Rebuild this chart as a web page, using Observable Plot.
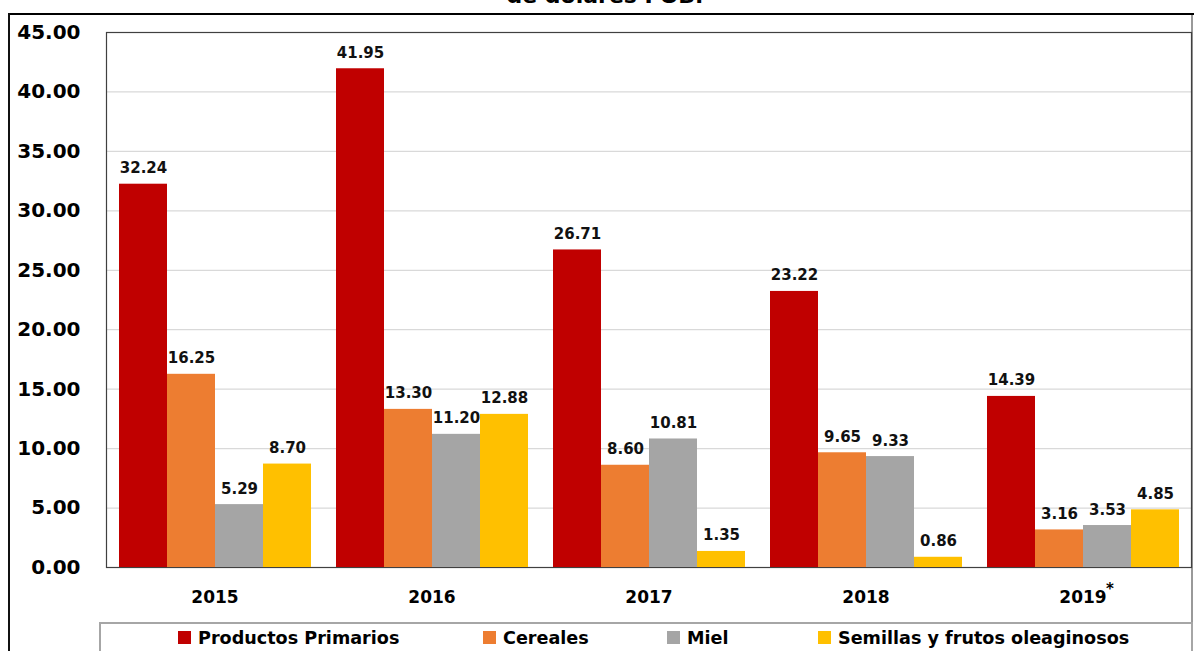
<!DOCTYPE html>
<html>
<head>
<meta charset="utf-8">
<script src="https://cdn.jsdelivr.net/npm/d3@7"></script>
<script src="https://cdn.jsdelivr.net/npm/@observablehq/plot@0.6"></script>
<style>
  html, body { margin: 0; padding: 0; background: #fff; overflow: hidden; }
  #wrap { position: relative; width: 1194px; height: 651px; overflow: hidden; font-family: "DejaVu Sans", sans-serif; font-weight: bold; color: #000; }
  #title { position: absolute; left: 0; width: 1210px; top: -15px; text-align: center; font-size: 22px; line-height: 22px; }
  #bTop { position: absolute; left: 8px; right: 0; top: 13px; height: 2px; background: #000; }
  #bLeft { position: absolute; left: 8px; top: 13px; width: 2px; bottom: 0; background: #111; }
  #bRight { position: absolute; right: 1px; top: 15px; width: 2px; bottom: 0; background: #999; }
  #back, #chart { position: absolute; left: 0; top: 0; }
  #legend { position: absolute; left: 99px; width: 1090px; top: 622px; height: 40px; border: 2px solid #a6a6a6; background: #fff; }
  .item { position: absolute; top: 3px; font-size: 17.6px; line-height: 22px; white-space: nowrap; color: #000; }
  .sw { display: inline-block; width: 13px; height: 13px; margin-right: 7px; vertical-align: 0px; }
</style>
</head>
<body>
<div id="wrap">
  <div id="title">de dólares FOB.</div>
  <div id="bTop"></div>
  <div id="bLeft"></div>
  <div id="bRight"></div>
  <div id="back"></div>
  <div id="chart"></div>
  <div id="legend"></div>
</div>
<script>
const years = ["2015", "2016", "2017", "2018", "2019"];
const series = ["Productos Primarios", "Cereales", "Miel", "Semillas y frutos oleaginosos"];
const colors = ["#C00000", "#ED7D31", "#A5A5A5", "#FFC000"];
const productosPrimarios = [32.24, 41.95, 26.71, 23.22, 14.39];
const cereales = [16.25, 13.30, 8.60, 9.65, 3.16];
const miel = [5.29, 11.20, 10.81, 9.33, 3.53];
const semillas = [8.70, 12.88, 1.35, 0.86, 4.85];
const yTicks = [0, 5, 10, 15, 20, 25, 30, 35, 40, 45];
const gridTicks = [5, 10, 15, 20, 25, 30, 35, 40];
const footnoteYear = ["2019"];

const valuesBySeries = [productosPrimarios, cereales, miel, semillas];
const data = [];
years.forEach((y, i) => {
  series.forEach((s, j) => {
    data.push({year: y, series: s, value: valuesBySeries[j][i]});
  });
});

const common = {
  width: 1194,
  height: 620,
  marginLeft: 106,
  marginRight: 3,
  marginTop: 32,
  marginBottom: 53,
  style: {background: "none", fontFamily: "DejaVu Sans, sans-serif", color: "#000"}
};

// Background layer: grid, frame, y axis (shared y scale, not faceted)
const back = Plot.plot({
  ...common,
  y: {domain: [0, 45], axis: null},
  marks: [
    Plot.ruleY(gridTicks, {stroke: "#d9d9d9", strokeWidth: 1.2}),
    Plot.axisY({
      ticks: yTicks, tickFormat: d => d.toFixed(2), tickSize: 0, tickPadding: 26,
      fontSize: 20, fontWeight: "bold", label: null, fill: "#000"
    }),
    Plot.frame({stroke: "#404040", strokeWidth: 1.2})
  ]
});
document.getElementById("back").appendChild(back);

// Foreground layer: grouped bars, labels, year axis
const chart = Plot.plot({
  ...common,
  fx: {domain: years, paddingInner: 0.11, paddingOuter: 0.055, label: null, axis: null},
  x: {domain: series, padding: 0, axis: null},
  y: {domain: [0, 45], axis: null},
  color: {domain: series, range: colors},
  marks: [
    Plot.barY(data, {fx: "year", x: "series", y: "value", fill: "series"}),
    Plot.text(data, {
      fx: "year", x: "series", y: "value",
      text: d => d.value.toFixed(2),
      lineAnchor: "bottom", dy: -11,
      fontSize: 15, fontWeight: "bold", fill: "#111"
    }),
    Plot.axisFx({
      anchor: "bottom", tickSize: 0, tickPadding: 23, fontSize: 17, fontWeight: "bold",
      label: null, fill: "#000"
    }),
    Plot.text(footnoteYear, {
      fx: d => d, frameAnchor: "bottom", text: () => "*",
      dx: 27, dy: 26, fontSize: 15, fontWeight: "bold", fill: "#000"
    })
  ]
});
document.getElementById("chart").appendChild(chart);

const legendLefts = [77, 382, 566, 717];
const legend = document.getElementById("legend");
series.forEach((s, i) => {
  const it = document.createElement("div");
  it.className = "item";
  it.style.left = legendLefts[i] + "px";
  it.innerHTML = `<span class="sw" style="background:${colors[i]}"></span>${s}`;
  legend.appendChild(it);
});
</script>
</body>
</html>
